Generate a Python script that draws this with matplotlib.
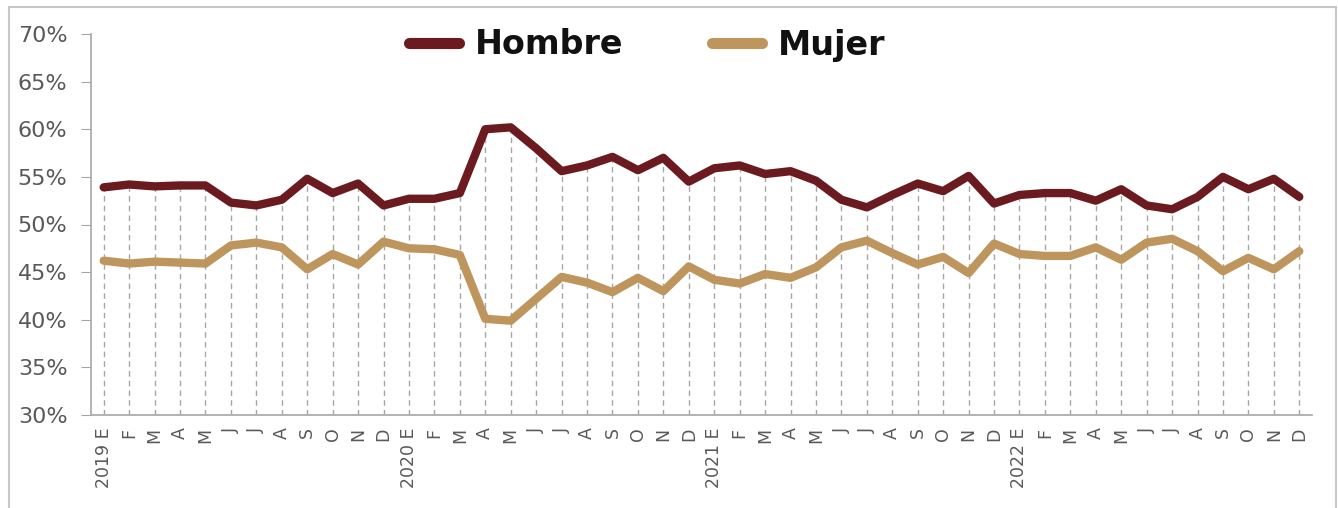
import matplotlib
matplotlib.use("Agg")
import matplotlib.pyplot as plt
from matplotlib.patches import Rectangle
from matplotlib.ticker import FuncFormatter

# monthly share by sex, Jan 2019 - Dec 2022 (%)
meses = ["E", "F", "M", "A", "M", "J", "J", "A", "S", "O", "N", "D"]
anios = ["2019", "2020", "2021", "2022"]

hombre = [
    53.9, 54.2, 54.0, 54.1, 54.1, 52.3, 52.0, 52.6, 54.8, 53.3, 54.3, 52.0,
    52.7, 52.7, 53.3, 60.0, 60.2, 58.0, 55.6, 56.2, 57.1, 55.7, 57.0, 54.5,
    55.9, 56.2, 55.3, 55.6, 54.6, 52.6, 51.8, 53.1, 54.3, 53.5, 55.1, 52.2,
    53.1, 53.3, 53.3, 52.5, 53.7, 52.0, 51.6, 52.9, 55.0, 53.7, 54.8, 52.9,
]
mujer = [
    46.2, 45.9, 46.1, 46.0, 45.9, 47.8, 48.1, 47.6, 45.3, 46.9, 45.8, 48.2,
    47.5, 47.4, 46.8, 40.1, 39.9, 42.2, 44.5, 43.9, 42.9, 44.4, 43.0, 45.6,
    44.2, 43.8, 44.8, 44.4, 45.5, 47.6, 48.3, 47.0, 45.8, 46.6, 44.9, 48.0,
    46.9, 46.7, 46.7, 47.6, 46.3, 48.1, 48.5, 47.2, 45.1, 46.5, 45.3, 47.2,
]

etiquetas = []
for a in anios:
    for i, m in enumerate(meses):
        etiquetas.append(f"{a} {m}" if i == 0 else m)

COLOR_H = "#6B1A1F"
COLOR_M = "#BE955C"
GRIS = "#595959"

plt.rcParams["font.family"] = ["DejaVu Sans"]

fig = plt.figure(figsize=(13.38, 5.08), dpi=100)
ax = fig.add_axes([91 / 1338, 1 - 415 / 508, (1312 - 91) / 1338, (415 - 34) / 508])

x = list(range(len(hombre)))

# drop lines from the top series down to the axis
ax.vlines(x, 30, hombre, colors="#A6A6A6", linestyles=(0, (4, 3)), linewidth=1, zorder=1)

ax.plot(x, hombre, color=COLOR_H, linewidth=6, solid_capstyle="round",
        solid_joinstyle="round", label="Hombre", zorder=3)
ax.plot(x, mujer, color=COLOR_M, linewidth=6, solid_capstyle="round",
        solid_joinstyle="round", label="Mujer", zorder=3)

ax.set_xlim(-0.5, len(x) - 0.5)
ax.set_ylim(30, 70)
ax.set_yticks(range(30, 71, 5))
ax.yaxis.set_major_formatter(FuncFormatter(lambda v, _: f"{v:.0f}%"))
ax.tick_params(axis="y", labelsize=16, labelcolor=GRIS, color="#A6A6A6", length=7, pad=10)

ax.set_xticks(x)
ax.set_xticklabels(etiquetas, rotation=90, ha="center", va="top")
ax.tick_params(axis="x", labelsize=12.5, labelcolor=GRIS, length=0, pad=9)

for s in ["top", "right"]:
    ax.spines[s].set_visible(False)
for s in ["left", "bottom"]:
    ax.spines[s].set_color("#A6A6A6")
    ax.spines[s].set_linewidth(1.2)

leg = fig.legend(loc="center", bbox_to_anchor=(0.4836, 1 - 45 / 508), ncol=2,
                 frameon=False, fontsize=24, handlelength=1.5, columnspacing=2.65,
                 handletextpad=0.48)
for line in leg.get_lines():
    line.set_linewidth(8)
    line.set_solid_capstyle("round")
for t in leg.get_texts():
    t.set_fontweight("bold")
    t.set_color("#111111")

# light frame around the whole chart
fig.patches.append(Rectangle((9 / 1338, -0.05), 1327 / 1338, 1.05 - 7 / 508,
                             transform=fig.transFigure, fill=False,
                             edgecolor="#C8C8C8", linewidth=1.5))

fig.savefig("out.png", dpi=100)
